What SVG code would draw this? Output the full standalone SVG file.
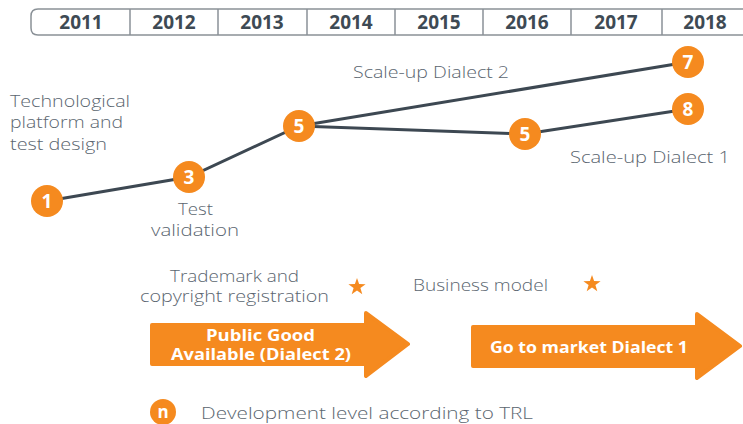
<svg xmlns="http://www.w3.org/2000/svg" width="743" height="424" viewBox="0 0 743 424">
<style>
.yr{font-family:"Open Sans","Liberation Sans",sans-serif;font-weight:700;font-size:19px;fill:#3e4a54;text-anchor:middle}
.lbl{font-family:"Open Sans","Liberation Sans",sans-serif;font-weight:300;font-size:16.5px;fill:#5b6670}
.num{font-family:"Open Sans","Liberation Sans",sans-serif;font-weight:700;font-size:19px;fill:#fff;text-anchor:middle}
.arr{font-family:"Open Sans","Liberation Sans",sans-serif;font-weight:700;font-size:15.5px;fill:#fff;text-anchor:middle}
.node circle{fill:#f58a1f}
.div{stroke:#8a9197;stroke-width:1.5}
.edge{stroke:#3d4852;stroke-width:3;fill:none}
.star{fill:#f58a1f}
.arrow{fill:#f58a1f;stroke:#f58a1f;stroke-width:4;stroke-linejoin:round}
</style>
<defs>
<polygon id="starShape" points="0,-9 2.1,-2.9 8.6,-2.8 3.4,1.1 5.3,7.3 0,3.6 -5.3,7.3 -3.4,1.1 -8.6,-2.8 -2.1,-2.9"/>
</defs>
<g id="timeline">
<path d="M750,9 H38 Q31,9 31,16 V28 Q31,35 38,35 H750" fill="#fff" stroke="#8a9197" stroke-width="1.5"/>
<line class="div" x1="130" y1="9" x2="130" y2="35"/>
<line class="div" x1="218" y1="9" x2="218" y2="35"/>
<line class="div" x1="307" y1="9" x2="307" y2="35"/>
<line class="div" x1="395" y1="9" x2="395" y2="35"/>
<line class="div" x1="483" y1="9" x2="483" y2="35"/>
<line class="div" x1="571" y1="9" x2="571" y2="35"/>
<line class="div" x1="662" y1="9" x2="662" y2="35"/>
<text class="yr" x="81" y="29">2011</text>
<text class="yr" x="174" y="29">2012</text>
<text class="yr" x="262" y="29">2013</text>
<text class="yr" x="351" y="29">2014</text>
<text class="yr" x="439" y="29">2015</text>
<text class="yr" x="527" y="29">2016</text>
<text class="yr" x="616" y="29">2017</text>
<text class="yr" x="705" y="29">2018</text>
</g>
<g id="connectors">
<polyline class="edge" points="47,201 189,177 299,126 525,134 688,109"/>
<line class="edge" x1="299" y1="126" x2="688" y2="62"/>
</g>
<g id="n1" class="node"><circle cx="47" cy="201" r="16"/><text class="num" x="47" y="208">1</text></g>
<g id="n3" class="node"><circle cx="189" cy="177" r="16"/><text class="num" x="189" y="184">3</text></g>
<g id="n5a" class="node"><circle cx="299" cy="126" r="16"/><text class="num" x="299" y="133">5</text></g>
<g id="n5b" class="node"><circle cx="525" cy="134" r="16"/><text class="num" x="525" y="141">5</text></g>
<g id="n7" class="node"><circle cx="688" cy="62" r="16"/><text class="num" x="688" y="69">7</text></g>
<g id="n8" class="node"><circle cx="688" cy="109" r="16"/><text class="num" x="688" y="116">8</text></g>
<g id="labels">
<text class="lbl" x="10" y="107" textLength="120" lengthAdjust="spacingAndGlyphs">Technological</text>
<text class="lbl" x="10" y="128" textLength="113" lengthAdjust="spacingAndGlyphs">platform and</text>
<text class="lbl" x="10" y="150" textLength="97" lengthAdjust="spacingAndGlyphs">test design</text>
<text class="lbl" x="178" y="215" textLength="35" lengthAdjust="spacingAndGlyphs">Test</text>
<text class="lbl" x="151" y="236" textLength="88" lengthAdjust="spacingAndGlyphs">validation</text>
<text class="lbl" x="353" y="78" textLength="156" lengthAdjust="spacingAndGlyphs">Scale-up Dialect 2</text>
<text class="lbl" x="570" y="163" textLength="160" lengthAdjust="spacingAndGlyphs">Scale-up Dialect 1</text>
<text class="lbl" x="170" y="282" textLength="129" lengthAdjust="spacingAndGlyphs">Trademark and</text>
<text class="lbl" x="140" y="302" textLength="189" lengthAdjust="spacingAndGlyphs">copyright registration</text>
<text class="lbl" x="413" y="291" textLength="135" lengthAdjust="spacingAndGlyphs">Business model</text>
</g>
<g id="star1"><use href="#starShape" class="star" x="357" y="287"/></g>
<g id="star2"><use href="#starShape" class="star" x="592" y="284"/></g>
<g id="arrow1">
<polygon class="arrow" points="152,325 366,325 366,313 408,344 366,376 366,364 152,364"/>
<text class="arr" x="260.5" y="341" textLength="109" lengthAdjust="spacingAndGlyphs">Public Good</text>
<text class="arr" x="261" y="360" textLength="180" lengthAdjust="spacingAndGlyphs">Available (Dialect 2)</text>
</g>
<g id="arrow2">
<polygon class="arrow" points="473,327 697,327 697,314 740,346 697,378 697,366 473,366"/>
<text class="arr" x="589" y="353" textLength="198" lengthAdjust="spacingAndGlyphs">Go to market Dialect 1</text>
</g>
<g id="legend">
<circle cx="163" cy="412" r="13" fill="#f58a1f"/>
<text class="num" x="163" y="418" style="font-size:17px">n</text>
<text class="lbl" x="201" y="419" textLength="332" lengthAdjust="spacingAndGlyphs">Development level according to TRL</text>
</g>
</svg>
